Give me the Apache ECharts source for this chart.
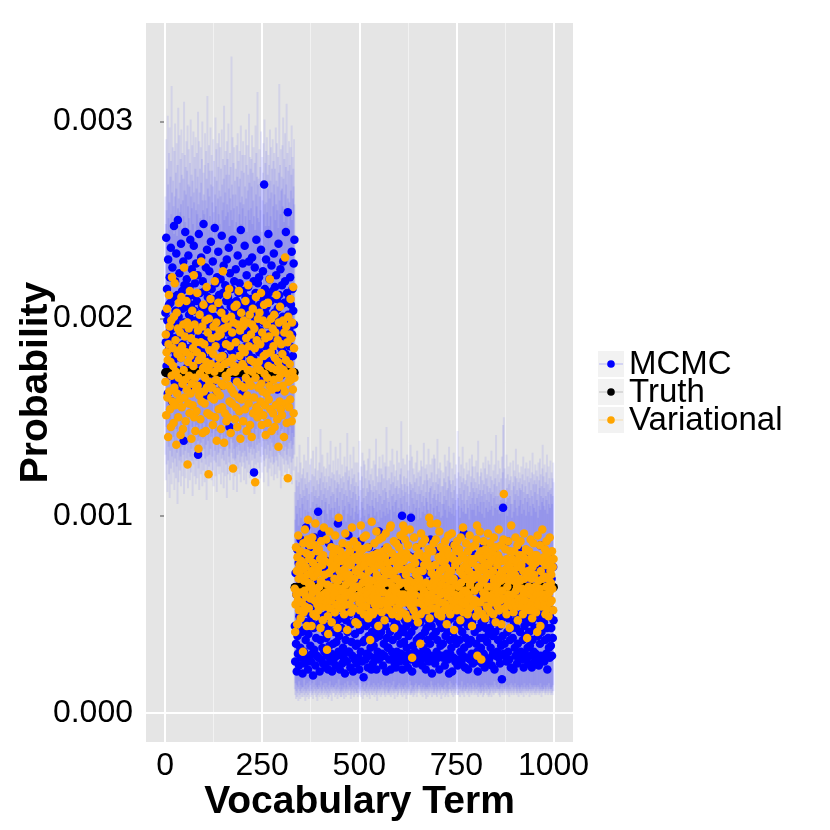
<!DOCTYPE html>
<html>
<head>
<meta charset="utf-8">
<script src="https://cdn.jsdelivr.net/npm/echarts@6.0.0/dist/echarts.min.js"></script>
<style>
  html, body { margin: 0; padding: 0; background: #fff; }
  #chart { width: 830px; height: 830px; }
</style>
</head>
<body>
<div id="chart"></div>
<script>
// all probabilities below are in units of 1e-5
var SCALE = 1e-5;

// terms 1..333 (high-probability block)
var mcmcA = [
  203,188,241,176,215,199,162,230,184,207,193,221,171,208,236,189,200,158,226,195,
  211,179,247,190,168,219,204,182,233,197,174,212,250,186,201,165,223,192,209,180,
  238,196,172,214,205,187,229,138,198,217,183,244,191,206,175,220,194,210,169,232,
  185,202,216,178,240,193,207,164,225,189,199,212,181,237,170,204,218,188,196,228,
  173,209,186,222,131,200,243,191,177,213,198,184,231,167,206,195,219,182,248,201,
  190,214,176,205,226,161,197,235,188,211,179,203,192,224,171,208,186,239,199,215,
  182,196,229,168,210,201,187,246,175,218,193,206,163,221,189,200,234,178,212,197,
  205,174,220,191,185,242,198,166,213,188,227,181,203,195,217,172,209,186,230,199,
  193,211,178,236,200,145,223,189,206,184,215,197,174,240,192,208,181,219,203,169,
  188,225,196,209,176,201,232,185,213,170,199,218,191,204,245,180,207,195,162,228,
  214,183,200,190,237,175,211,198,186,222,167,205,193,216,182,229,202,178,210,194,
  172,208,189,231,197,206,180,219,122,201,226,187,213,196,240,177,204,191,218,185,
  199,221,183,207,194,170,235,188,211,202,176,224,190,198,268,181,215,203,186,230,
  206,179,197,212,185,243,192,168,220,201,187,209,174,227,196,183,214,200,178,233,
  189,203,216,175,198,222,187,210,164,205,194,238,180,212,199,186,225,171,207,193,
  217,184,201,229,191,176,208,196,219,182,244,200,173,213,188,254,202,179,210,195,
  186,221,198,207,170,234,192,215,181,204,228,197,240
];
var variationalA = [
  168,192,151,183,205,160,179,140,187,212,163,196,154,178,145,199,171,221,158,185,
  176,147,201,165,218,156,189,173,136,203,162,182,195,150,170,208,184,159,193,141,
  180,211,155,186,167,144,197,174,226,160,191,169,148,183,209,164,198,126,178,157,
  195,171,152,214,181,162,190,139,167,204,156,185,176,222,150,197,170,143,188,164,
  153,183,213,166,194,134,179,161,202,172,149,188,229,158,181,196,142,175,207,163,
  187,157,170,199,143,178,216,165,152,193,174,121,200,168,184,151,210,177,160,190,
  165,205,146,182,196,159,173,219,150,186,169,198,138,163,191,176,208,154,180,194,
  161,175,192,144,203,167,155,181,224,166,195,137,177,152,200,171,187,148,170,212,
  196,150,178,166,215,158,186,173,142,201,164,157,193,180,124,198,162,176,206,149,
  173,188,155,207,168,145,197,175,160,214,153,181,194,139,166,203,159,185,177,196,
  148,176,199,165,183,154,209,170,190,143,198,161,174,217,157,186,168,202,146,179,
  192,166,140,197,173,205,152,178,160,195,185,117,170,211,155,189,176,150,200,165,
  178,153,203,174,187,158,213,167,146,193,163,199,151,181,207,172,156,190,141,182,
  162,197,170,147,208,176,159,191,166,220,154,183,200,143,175,164,195,152,186,169,
  202,145,180,193,156,174,212,165,149,189,178,135,198,170,158,206,175,154,187,172,
  151,182,166,199,174,140,193,163,231,157,179,196,147,172,188,119,201,168,155,192,
  177,159,210,169,190,148,198,173,164,216,152,185,170
];
var ciLoA = [
  131,118,145,126,139,112,150,128,135,121,142,109,133,147,124,138,116,130,155,127,
  140,122,134,113,148,129,137,119,144,125,132,106,141,136,117,151,128,123,139,130,
  115,143,127,135,120,149,131,138,111,126,146,133,119,140,129,157,124,136,114,132,
  137,125,141,118,130,152,122,134,128,145,110,139,126,133,148,120,131,143,116,135,
  128,146,119,132,138,124,140,113,135,129,150,121,137,127,142,115,133,139,123,147,
  134,117,129,144,126,136,108,141,130,122,138,153,125,131,119,145,134,127,140,118,
  142,130,123,137,115,148,128,133,139,120,127,143,112,136,131,125,150,132,121,138,
  125,139,134,116,141,129,145,122,131,137,114,128,146,133,120,140,126,135,109,143,
  136,121,147,130,127,134,118,142,125,139,132,156,123,137,129,113,141,134,128,120,
  129,144,126,135,112,140,131,124,149,136,121,133,127,142,117,138,130,125,145,132,
  141,127,118,139,133,124,146,130,116,137,128,143,122,135,151,126,132,119,140,134,
  120,135,142,128,131,147,123,138,134,111,129,140,126,144,132,121,136,148,127,139,
  133,124,137,145,119,130,142,127,135,122,154,131,138,117,128,143,125,134,140,129,
  138,131,122,140,136,115,147,129,124,139,133,127,145,120,137,130,150,126,135,118,
  127,142,134,121,130,144,128,136,119,141,125,137,132,146,123,131,139,114,143,130,
  144,120,136,129,152,126,133,140,122,135,147,128,131,118,139,126,134,141,124,137,
  130,145,121,138,127,134,116,142,129,136,123,140,131
];
var ciHiA = [
  262,248,291,255,276,240,303,268,251,284,259,297,245,272,280,253,318,264,249,287,
  270,257,243,285,262,299,250,274,266,289,242,278,256,307,261,247,293,269,254,281,
  258,296,273,246,284,260,271,252,310,265,283,249,277,263,290,244,275,298,257,268,
  286,251,267,279,245,301,262,273,256,288,270,248,295,264,259,282,241,276,292,255,
  266,284,253,272,305,258,247,290,264,276,251,287,269,242,281,300,260,255,274,263,
  253,278,294,260,248,285,271,256,313,266,279,245,288,262,275,252,297,268,244,283,
  275,259,267,291,254,280,249,272,263,302,257,286,270,246,289,261,277,253,294,265,
  248,287,262,276,243,296,268,255,281,259,271,308,250,278,264,285,252,273,290,258,
  281,254,299,266,273,247,284,261,277,255,333,268,250,292,263,279,256,287,244,270,
  263,276,249,288,257,272,294,246,280,267,253,285,271,259,298,248,275,262,283,256,
  290,258,274,245,283,267,252,296,261,278,244,288,265,273,255,304,269,250,282,276,
  256,281,267,293,248,274,260,287,252,270,279,245,298,263,284,257,272,315,251,268,
  271,249,286,262,277,255,295,266,244,282,260,274,289,253,268,301,258,279,247,285,
  259,292,254,273,266,283,247,278,261,296,270,252,287,264,276,243,291,257,280,268,
  284,263,276,250,297,258,270,289,255,267,282,246,274,319,260,278,253,286,265,272,
  266,288,257,302,271,249,281,263,294,256,277,268,309,252,284,261,275,247,290,259,
  278,254,287,265,273,298,250,282,261,276,267,291,258
];

// terms 334..1000 (low-probability block)
var mcmcB = [
  44,26,71,35,60,21,83,39,30,56,76,24,49,65,33,88,28,53,41,69,
  20,59,42,79,31,51,25,63,37,94,46,29,72,55,22,40,67,27,84,50,
  34,62,26,47,75,30,56,19,70,43,32,89,52,24,61,38,78,29,50,66,
  102,28,45,58,21,80,37,54,27,91,46,33,64,25,49,74,31,59,41,23,
  55,38,77,29,50,68,22,44,86,34,61,26,48,71,30,57,21,73,46,35,
  27,64,41,51,81,24,57,36,70,29,47,96,31,53,39,62,22,75,48,30,
  43,72,25,55,33,85,28,49,61,20,68,37,47,78,26,56,41,31,90,52,
  31,50,66,23,45,59,36,79,29,53,21,71,46,63,27,40,82,34,51,25,
  58,35,48,74,28,56,22,66,42,87,31,50,72,26,47,61,36,18,70,49,
  37,67,27,52,44,30,77,50,23,63,39,84,29,57,46,33,73,22,55,41,
  64,25,51,34,71,45,28,60,38,81,22,48,66,31,56,42,27,92,39,53,
  28,56,41,76,30,49,62,24,70,35,47,29,83,44,59,21,68,38,51,33,
  50,33,74,27,55,41,66,22,48,60,31,78,37,53,28,71,44,25,64,46,
  23,61,45,31,86,39,54,29,68,43,26,57,35,75,30,49,100,22,58,41,
  70,36,29,59,47,26,73,44,33,63,50,23,80,39,55,30,46,67,27,99,
  41,53,21,67,34,79,28,57,44,31,72,47,25,62,37,49,84,29,52,38,
  57,30,76,46,27,55,39,69,24,48,62,33,78,28,51,41,65,22,73,43,
  31,63,37,50,71,26,46,59,35,88,29,53,44,20,67,39,75,49,27,56,
  48,25,67,41,55,31,82,37,61,28,49,72,22,46,59,34,66,43,29,77,
  61,35,28,74,44,53,24,65,39,50,79,30,56,41,27,70,47,20,60,37,
  30,76,48,33,58,21,63,41,85,28,52,38,68,26,49,61,35,74,45,24,
  56,43,27,67,37,80,31,55,46,25,72,41,60,29,50,91,33,63,23,47,
  38,66,52,28,74,44,22,59,35,69,48,27,76,37,56,30,46,81,25,62,
  50,29,71,41,26,62,49,35,79,31,56,21,66,43,28,53,74,38,60,33,
  67,46,25,55,38,84,30,63,47,23,59,43,72,28,50,36,77,26,55,40,
  27,56,43,75,33,49,66,24,61,39,30,81,46,54,22,69,41,29,62,48,
  46,31,76,37,53,28,68,44,25,72,47,34,60,17,56,39,104,30,50,65,
  35,62,29,49,71,26,55,41,87,31,48,66,27,74,37,53,23,68,43,59,
  53,38,67,22,46,61,33,78,29,50,43,70,25,56,35,83,30,48,63,28,
  41,73,31,59,48,27,65,37,51,23,74,44,30,68,39,55,28,76,46,33,
  66,25,49,41,79,34,57,29,69,46,23,61,37,75,48,31,64,43,26,71,
  30,52,43,74,28,58,39,68,24,48,62,35,85,29,56,41,72,27,50,46,
  59,46,26,67,37,50,77,30,55,43,22,71,38,62,33,80,28,49,57,34,
  43,68,29,52,38,74,47
];
var variationalB = [
  63,41,55,84,60,72,45,79,57,90,68,52,75,61,82,48,69,77,56,73,
  76,31,86,51,67,62,93,54,74,59,81,44,70,88,98,66,53,78,64,85,
  58,80,65,44,72,89,61,76,50,69,85,57,63,96,49,74,62,82,55,71,
  73,52,83,64,59,78,43,67,87,57,66,75,47,80,60,94,54,70,77,58,
  61,88,56,32,65,49,40,60,71,92,53,76,64,57,84,46,73,62,79,59,
  81,60,68,51,90,64,75,55,83,61,43,78,67,99,54,72,58,82,63,70,
  53,77,62,86,57,69,79,50,73,59,91,65,55,80,70,42,76,61,85,67,
  70,55,82,61,75,51,66,94,58,78,63,53,87,68,59,79,46,72,64,84,
  59,85,45,73,64,77,56,81,52,70,95,61,74,55,83,66,58,89,50,78,
  75,62,69,90,54,79,60,67,84,48,72,64,78,57,37,51,76,61,97,58,
  67,50,80,59,73,86,55,63,77,52,92,70,58,81,65,44,75,88,61,68,
  55,78,64,75,51,89,68,57,82,61,72,47,79,66,91,56,70,84,53,76,
  83,58,73,52,66,94,61,95,56,70,81,50,64,77,59,87,43,72,68,62,
  62,86,53,79,68,57,75,49,84,65,55,78,90,60,73,51,81,66,58,95,
  77,60,92,56,88,50,70,81,59,73,48,85,64,57,79,67,93,55,74,61,
  54,73,28,63,58,78,52,89,66,60,76,49,70,84,56,64,80,46,72,67,
  68,81,56,35,50,91,64,59,86,72,55,79,62,75,52,88,60,66,78,57,
  80,52,76,60,83,56,99,48,74,64,96,59,71,53,82,66,57,86,62,69,
  58,75,64,88,53,67,96,57,70,50,79,62,92,56,72,60,84,49,77,65,
  73,56,81,52,68,61,77,87,55,74,64,45,83,59,70,90,53,80,62,67,
  50,79,63,72,91,57,67,54,78,68,42,85,60,75,56,82,65,52,87,59,
  77,64,53,83,59,72,47,89,66,60,80,56,70,94,51,74,62,78,55,68,
  62,86,57,68,75,50,82,60,72,53,90,65,78,58,67,84,44,70,76,56,
  68,55,78,62,85,57,70,49,88,95,29,74,52,80,64,72,92,56,68,82,
  27,78,66,50,73,61,87,58,76,68,48,83,60,71,54,80,64,91,53,75,
  80,58,70,86,51,77,64,56,82,60,72,50,89,67,57,78,68,46,84,62,
  65,75,54,80,60,93,52,70,78,57,67,85,45,72,62,77,58,88,111,69,
  53,68,83,58,73,50,78,64,55,87,60,75,67,43,82,57,70,95,54,76,
  78,60,72,51,67,82,56,70,89,62,54,77,64,85,47,74,58,68,80,55,
  67,87,58,75,54,63,80,50,72,60,91,68,57,78,53,83,62,71,38,69,
  56,72,64,82,52,77,60,88,55,68,79,48,74,62,86,58,70,53,80,64,
  76,51,80,60,41,90,55,67,78,57,63,85,44,72,60,77,54,93,68,58,
  60,79,55,69,83,50,75,64,87,53,80,58,68,49,77,61,89,56,72,66,
  70,57,82,63,74,52,78
];
var ciLoB = [
  12,9,15,7,11,14,8,10,13,6,12,16,9,11,7,14,10,12,8,13,
  10,13,8,11,17,9,12,6,14,10,11,8,15,12,9,13,7,11,16,10,
  14,8,11,12,9,15,10,7,13,11,18,9,12,10,14,8,11,13,6,12,
  9,12,14,10,8,13,11,16,9,12,10,7,14,11,13,9,15,10,12,8,
  11,15,9,13,10,7,12,14,8,11,16,10,9,13,12,6,14,11,10,13,
  13,10,12,8,14,11,9,15,12,10,7,13,11,17,9,12,10,14,8,11,
  8,12,10,14,11,9,13,7,12,15,10,11,8,13,12,10,16,9,11,14,
  12,9,13,11,7,14,10,12,9,16,11,13,8,10,15,12,9,11,14,10,
  10,14,8,12,13,10,17,9,11,12,8,15,10,13,11,7,12,14,9,11,
  15,11,9,10,13,12,8,14,10,11,16,9,12,7,13,11,10,14,12,9,
  9,13,11,15,10,8,12,11,14,9,13,10,6,12,11,15,9,13,10,12,
  11,8,14,12,9,13,10,16,11,12,9,14,10,8,13,11,12,15,9,10,
  13,11,10,9,15,12,11,8,13,10,14,12,9,11,16,10,13,7,12,11,
  10,12,13,11,8,14,9,12,10,15,11,13,12,9,10,14,11,8,13,12,
  12,10,9,14,11,13,10,7,15,12,11,9,13,10,12,11,16,9,14,10,
  9,14,11,10,12,8,13,11,9,14,10,12,15,11,8,13,10,12,11,14,
  14,10,12,13,9,11,15,10,12,8,13,11,10,14,12,9,11,13,7,12,
  11,13,8,12,10,14,11,9,13,12,10,16,11,8,14,12,10,13,9,11,
  10,12,14,9,13,11,8,12,10,15,11,13,9,12,10,14,11,7,13,12,
  13,9,11,12,10,14,12,8,15,11,9,13,10,12,11,8,14,10,12,16,
  12,11,10,15,9,13,11,12,8,14,10,12,13,9,11,15,10,12,14,9,
  9,13,12,10,14,8,12,11,13,10,16,9,11,12,10,13,8,14,11,12,
  11,10,13,12,9,15,10,13,11,8,12,14,10,11,13,9,12,10,15,11,
  14,12,9,11,13,10,12,15,9,12,11,13,8,14,10,11,13,12,9,10,
  10,13,11,14,8,12,11,9,13,10,15,11,12,10,14,9,11,13,12,8,
  12,9,14,10,11,13,8,12,14,11,10,13,9,12,16,10,11,14,10,12,
  13,11,10,12,15,9,12,11,8,13,12,10,14,11,9,13,10,12,15,11,
  9,12,13,11,10,14,12,9,11,13,10,12,8,14,11,12,10,15,9,13,
  11,14,10,12,9,13,11,15,10,12,13,9,11,10,14,12,8,13,11,10,
  12,10,13,9,14,11,10,12,13,8,11,15,12,10,13,11,9,12,14,11,
  10,13,11,12,8,15,12,10,11,14,9,12,13,11,10,14,12,9,13,10,
  14,11,9,13,12,10,14,11,13,9,12,10,15,11,12,8,13,11,10,12,
  11,12,14,10,13,9,11,12,10,14,13,11,9,12,15,10,11,13,12,9,
  12,10,13,11,9,14,11
];
var ciHiB = [
  112,98,125,105,118,130,101,115,108,122,95,117,136,104,111,127,99,119,109,121,
  106,124,113,97,131,110,119,103,116,128,100,114,122,108,140,102,117,111,96,126,
  118,104,129,112,99,121,107,133,115,101,120,110,124,97,113,135,106,118,109,123,
  102,116,110,127,105,119,144,100,113,122,108,131,96,117,111,125,103,120,114,107,
  124,109,117,101,132,113,98,120,106,126,115,103,138,110,119,104,122,112,99,128,
  111,121,104,118,107,135,100,114,123,109,117,129,102,116,105,121,112,137,98,119,
  99,114,126,108,120,103,117,111,130,105,122,113,97,125,110,142,101,118,107,123,
  120,106,113,131,100,116,109,124,104,119,112,135,98,121,115,102,127,111,117,105,
  108,127,101,115,122,110,138,103,118,113,99,125,107,120,132,104,114,109,128,100,
  126,103,119,110,97,123,114,106,129,112,101,118,134,105,116,121,99,113,124,108,
  105,118,112,128,104,115,100,126,109,139,113,102,120,107,117,97,124,111,130,103,
  117,110,124,99,121,106,131,113,102,119,108,127,114,100,125,112,145,104,118,109,
  101,125,107,119,113,103,128,116,98,122,110,134,105,117,111,126,102,120,107,114,
  123,108,115,133,100,118,111,104,127,114,99,121,109,124,148,106,116,113,102,129,
  110,120,103,116,126,112,101,119,107,131,115,98,123,111,105,128,117,102,136,113,
  116,102,130,109,114,124,106,121,100,117,112,127,104,119,108,133,111,98,122,115,
  104,123,111,120,99,128,113,107,125,102,116,110,137,105,118,101,124,112,109,126,
  121,107,118,103,134,112,100,119,114,126,106,115,122,98,129,109,117,104,131,111,
  113,129,100,117,108,121,105,139,111,116,124,102,119,107,127,112,99,123,115,106,
  100,115,122,106,119,110,131,103,117,125,108,113,99,128,114,120,105,135,102,118,
  127,104,116,112,101,124,109,118,106,132,113,100,121,115,108,126,103,119,111,143,
  109,122,105,130,114,99,120,111,126,104,117,108,135,102,119,113,124,106,116,101,
  118,101,127,108,121,115,104,123,110,98,129,112,106,120,117,103,131,109,125,114,
  103,119,112,125,106,117,100,128,114,109,122,105,138,111,116,102,120,113,107,124,
  122,110,101,118,113,127,107,116,99,124,111,130,104,119,108,121,115,102,128,112,
  107,126,114,103,120,111,133,105,118,112,100,123,109,116,126,104,119,110,141,106,
  115,103,121,110,128,106,117,101,124,113,108,119,102,130,111,122,146,105,150,112,
  124,112,104,119,107,131,114,100,121,109,125,116,103,118,110,127,106,120,113,99,
  106,117,128,102,115,123,108,120,111,134,104,119,113,100,126,110,117,105,122,114,
  119,108,113,125,101,116,121,106,130,112,103,118,109,124,115,100,127,111,107,120,
  111,124,102,117,109,128,105,119,113,100,122,110,132,106,116,121,104,118,112,126,
  102,116,123,108,120,111,99,127,105,118,114,129,103,121,110,115,107,124,136,109,
  120,105,114,126,103,117,110,122,108,131,101,116,112,125,106,119,113,104,128,111,
  114,122,106,119,110,127,117
];

// true term probabilities: one level per block
var truthLevels = [172.7, 63.7];

var seriesNames = ['MCMC', 'Truth', 'Variational'];
var seriesColors = ['#0000ff', '#000000', '#ffa500'];
var keyLineColors = ['rgba(0,0,255,0.12)', 'rgba(0,0,0,0.1)', 'rgba(255,165,0,0.15)'];

var xMajor = [0, 250, 500, 750, 1000];
var xMinor = [125, 375, 625, 875];
var yMajor = [0, 0.001, 0.002, 0.003];
var yMinor = [0.0005, 0.0015, 0.0025];

var FONT = '"Liberation Sans", Arial, Helvetica, sans-serif';

// ---- build point lists ----
var mcmc = mcmcA.concat(mcmcB);
var variational = variationalA.concat(variationalB);
var ciLo = ciLoA.concat(ciLoB);
var ciHi = ciHiA.concat(ciHiB);
var truth = mcmcA.map(function () { return truthLevels[0]; })
  .concat(mcmcB.map(function () { return truthLevels[1]; }));

function toPoints(arr) {
  return arr.map(function (v, i) { return [i + 1, v * SCALE]; });
}
var intervalData = ciLo.map(function (lo, i) {
  return [i + 1, lo * SCALE, ciHi[i] * SCALE];
});

function renderInterval(params, api) {
  var top = api.coord([api.value(0), api.value(2)]);
  var bottom = api.coord([api.value(0), api.value(1)]);
  return {
    type: 'line',
    shape: { x1: top[0], y1: top[1], x2: bottom[0], y2: bottom[1] },
    style: { stroke: 'rgba(0,0,255,0.08)', lineWidth: 2 }
  };
}

// grid lines drawn through the axes as mark lines
var gridLines = [];
xMinor.forEach(function (v) { gridLines.push({ xAxis: v, lineStyle: { color: '#f2f2f2', width: 1, type: 'solid' } }); });
yMinor.forEach(function (v) { gridLines.push({ yAxis: v, lineStyle: { color: '#f2f2f2', width: 1, type: 'solid' } }); });
xMajor.forEach(function (v) { gridLines.push({ xAxis: v, lineStyle: { color: '#ffffff', width: 2, type: 'solid' } }); });
yMajor.forEach(function (v) { gridLines.push({ yAxis: v, lineStyle: { color: '#ffffff', width: 2, type: 'solid' } }); });

// legend keys (ggplot style boxes)
var legendGraphics = [];
seriesNames.forEach(function (name, i) {
  var cy = 364 + 28 * i;
  legendGraphics.push(
    { type: 'rect', shape: { x: 598, y: cy - 13, width: 26, height: 26 }, style: { fill: '#f2f2f2' }, silent: true },
    { type: 'line', shape: { x1: 599, y1: cy, x2: 623, y2: cy }, style: { stroke: keyLineColors[i], lineWidth: 2 }, silent: true },
    { type: 'circle', shape: { cx: 611, cy: cy, r: 3.8 }, style: { fill: seriesColors[i] }, silent: true },
    { type: 'text', x: 629, y: cy + 1, style: { text: name, fill: '#000', fontSize: 33, fontFamily: FONT, verticalAlign: 'middle', align: 'left' }, silent: true }
  );
});

var chart = echarts.init(document.getElementById('chart'), null, { renderer: 'canvas' });

var option = {
  animation: false,
  backgroundColor: '#ffffff',
  textStyle: { fontFamily: FONT },
  grid: {
    left: 146, right: 257, top: 23, bottom: 88,
    outerBoundsMode: 'none', containLabel: false,
    show: true, backgroundColor: '#e5e5e5', borderWidth: 0
  },
  xAxis: {
    type: 'value', min: -49, max: 1050,
    name: 'Vocabulary Term', nameLocation: 'middle', nameGap: 41, nameMoveOverlap: false,
    nameTextStyle: { fontSize: 39, fontWeight: 'bold', color: '#000', fontFamily: FONT },
    axisLine: { show: false },
    axisTick: { show: true, customValues: xMajor, length: 5, lineStyle: { color: '#7f7f7f', width: 1.5 } },
    axisLabel: {
      customValues: xMajor, fontSize: 32, color: '#000', margin: 8, fontFamily: FONT,
      formatter: function (v) { return String(v); }
    },
    splitLine: { show: false }
  },
  yAxis: {
    type: 'value', min: -0.000148, max: 0.0035,
    name: 'Probability', nameLocation: 'middle', nameGap: 90, nameRotate: 90, nameMoveOverlap: false,
    nameTextStyle: { fontSize: 39, fontWeight: 'bold', color: '#000', fontFamily: FONT },
    axisLine: { show: false },
    axisTick: { show: true, customValues: yMajor, length: 5, lineStyle: { color: '#7f7f7f', width: 1.5 } },
    axisLabel: {
      customValues: yMajor, fontSize: 32, color: '#000', margin: 13, fontFamily: FONT,
      formatter: function (v) { return v.toFixed(3); }
    },
    splitLine: { show: false }
  },
  graphic: legendGraphics,
  series: [
    {
      type: 'line', data: [], z: 1, silent: true,
      markLine: { z: 1, silent: true, symbol: ['none', 'none'], label: { show: false }, animation: false, data: gridLines }
    },
    {
      name: 'interval', type: 'custom', renderItem: renderInterval, data: intervalData,
      encode: { x: 0, y: [1, 2] }, z: 2, silent: true, clip: true
    },
    {
      name: seriesNames[0], type: 'scatter', data: toPoints(mcmc), symbolSize: 8.5, z: 3,
      itemStyle: { color: seriesColors[0], opacity: 1 }, silent: true, progressive: 0
    },
    {
      name: seriesNames[1], type: 'scatter', data: toPoints(truth), symbolSize: 8.5, z: 4,
      itemStyle: { color: seriesColors[1], opacity: 1 }, silent: true, progressive: 0
    },
    {
      name: seriesNames[2], type: 'scatter', data: toPoints(variational), symbolSize: 8.5, z: 5,
      itemStyle: { color: seriesColors[2], opacity: 1 }, silent: true, progressive: 0
    }
  ]
};

chart.setOption(option);
</script>
</body>
</html>
